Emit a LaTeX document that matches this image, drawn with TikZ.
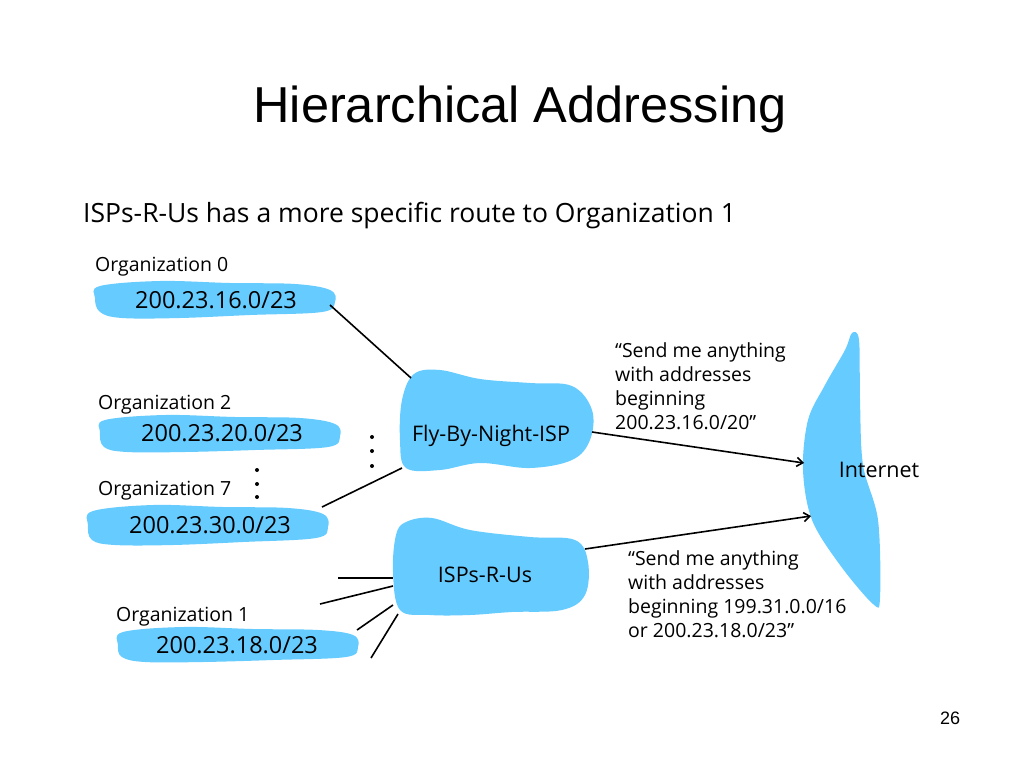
\documentclass[tikz,border=0pt]{standalone}
\usepackage{fontspec}
\setmainfont{Open Sans}
\newfontfamily\titlefont{Liberation Sans}
\usetikzlibrary{arrows.meta}
\definecolor{blobblue}{RGB}{102,204,255}
\begin{document}
\begin{tikzpicture}[x=1pt,y=-1pt,
  blob/.style={fill=blobblue,draw=none},
  lbl/.style={inner sep=0pt,anchor=west,font=\fontsize{19.5}{22}\selectfont},
  addr/.style={inner sep=0pt,font=\fontsize{23.5}{26}\selectfont},
  isp/.style={inner sep=0pt,font=\fontsize{21.5}{24}\selectfont},
  note/.style={inner sep=0pt,anchor=north west,align=left,font=\fontsize{19.5}{24}\selectfont},
  link/.style={line width=1.6pt,black},
  arr/.style={link,-{Straight Barb[length=6pt,width=9pt]}},
  dot/.style={circle,fill=black,inner sep=0pt,minimum size=4pt}]
\useasboundingbox (0,0) rectangle (1024,768);
\fill[white] (0,0) rectangle (1024,768);
% title
\node[inner sep=0pt,font=\titlefont\fontsize{50.5}{56}\selectfont] (title) at (520,109) {Hierarchical Addressing};
\node[inner sep=0pt,anchor=west,font=\fontsize{26.5}{30}\selectfont] (sub) at (83,216) {ISPs-R-Us has a more specific route to Organization 1};
% organization blobs
\fill[blob] plot[smooth cycle,tension=0.6] coordinates {(100,286) (160,281) (230,283) (295,284) (330,290) (335,302) (322,312) (250,315) (180,318) (122,318) (100,312) (95,298)};
\fill[blob] plot[smooth cycle,tension=0.6] coordinates {(105,420) (165,415) (235,417) (300,418) (335,424) (340,436) (328,447) (255,450) (185,452) (127,452) (104,447) (100,432)};
\fill[blob] plot[smooth cycle,tension=0.6] coordinates {(93,511) (153,505) (223,507) (288,508) (323,514) (328,527) (316,538) (243,542) (173,545) (115,545) (92,540) (88,525)};
\fill[blob] plot[smooth cycle,tension=0.6] coordinates {(123,632) (183,627) (253,629) (318,630) (353,635) (358,647) (346,657) (273,660) (203,662) (145,662) (122,657) (118,645)};
\node[lbl] (org0) at (95,267) {Organization 0};
\node[addr] (a0) at (216,300) {200.23.16.0/23};
\node[lbl] (org2) at (98,405) {Organization 2};
\node[addr] (a2) at (222,433) {200.23.20.0/23};
\node[lbl] (org7) at (98,491) {Organization 7};
\node[addr] (a7) at (210,525) {200.23.30.0/23};
\node[lbl] (org1) at (116,617) {Organization 1};
\node[addr] (a1) at (237,645) {200.23.18.0/23};
% dots
\node[dot] (d1) at (257,470) {};
\node[dot] (d2) at (257,484) {};
\node[dot] (d3) at (257,497) {};
\node[dot] (e1) at (372,437) {};
\node[dot] (e2) at (372,451) {};
\node[dot] (e3) at (372,466) {};
% ISP blobs
\fill[blob] plot[smooth cycle,tension=0.6] coordinates {(414,374) (440,370) (480,379) (530,383) (572,386) (592,410) (590,440) (572,460) (530,468) (480,463) (440,470) (406,468) (400,440) (402,400)};
\fill[blob] plot[smooth cycle,tension=0.6] coordinates {(406,522) (432,518) (470,530) (530,537) (575,540) (588,562) (585,595) (562,610) (512,612) (470,615) (430,615) (400,610) (393,572) (396,535)};
\node[isp] (fly) at (491,436) {Fly-By-Night-ISP};
\node[isp] (rus) at (485,575) {ISPs-R-Us};
% Internet blob
\fill[blob] plot[smooth cycle,tension=0.55] coordinates {(852,333) (859,340) (860,400) (863,465) (878,520) (880,598) (873,604) (840,565) (812,520) (803,470) (808,420) (825,385) (845,350)};
\node[isp] (inet) at (879,470) {Internet};
% connector endpoints
\coordinate (o0e) at (330,305);
\coordinate (fly0) at (411,378);
\coordinate (o7e) at (322,507);
\coordinate (fly7) at (402,468);
\coordinate (flyr) at (592,432);
\coordinate (inet1) at (804,463);
\coordinate (rusr) at (585,549);
\coordinate (inet2) at (811,516);
\coordinate (s1) at (338,578);
\coordinate (r1) at (393,578);
\coordinate (s2) at (320,604);
\coordinate (r2) at (393,586);
\coordinate (s3) at (357,630);
\coordinate (r3) at (393,605);
\coordinate (s4) at (371,658);
\coordinate (r4) at (398,614);
\draw[link] (o0e) -- (fly0);
\draw[link] (o7e) -- (fly7);
\draw[arr] (flyr) -- (inet1);
\draw[arr] (rusr) -- (inet2);
\draw[link] (s1) -- (r1);
\draw[link] (s2) -- (r2);
\draw[link] (s3) -- (r3);
\draw[link] (s4) -- (r4);
% notes
\node[note] (n1) at (615,342) {“Send me anything\\with addresses\\beginning\\200.23.16.0/20”};
\node[note] (n2) at (628,550) {“Send me anything\\with addresses\\beginning 199.31.0.0/16\\or 200.23.18.0/23”};
\node[inner sep=0pt,font=\titlefont\fontsize{18}{20}\selectfont] (pg) at (950,718) {26};
\end{tikzpicture}
\end{document}
